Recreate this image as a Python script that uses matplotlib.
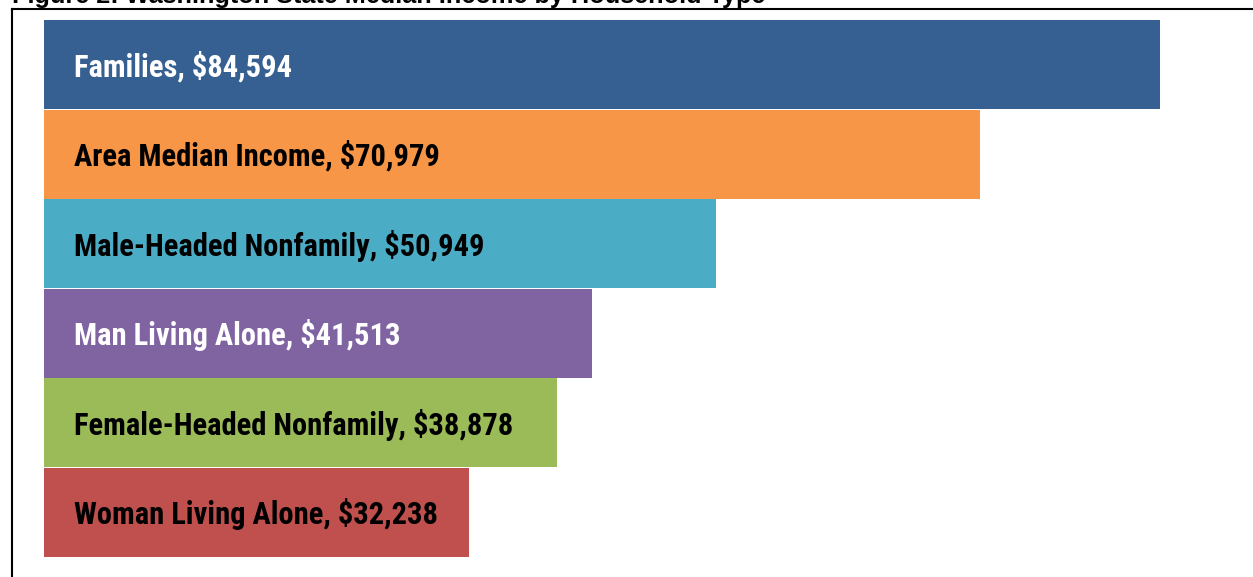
import matplotlib
matplotlib.use("Agg")
import matplotlib.pyplot as plt
from matplotlib.lines import Line2D

categories = ["Families", "Area Median Income", "Male-Headed Nonfamily",
              "Man Living Alone", "Female-Headed Nonfamily", "Woman Living Alone"]
values = [84594, 70979, 50949, 41513, 38878, 32238]
colors = ["#376092", "#F79646", "#4BACC6", "#8064A2", "#9BBB59", "#C0504D"]
text_colors = ["white", "black", "black", "white", "black", "black"]
title = "Figure 2: Washington State Median Income by Household Type"

W, H = 1253, 577
fig = plt.figure(figsize=(W / 100, H / 100), dpi=100)
fig.patch.set_facecolor("white")

# axes: x from pixel 44 to 1253, y from pixel 20 to 557
left_px, right_px, top_px, bot_px = 44, 1253, 20, 557
ax = fig.add_axes([left_px / W, 1 - bot_px / H, (right_px - left_px) / W, (bot_px - top_px) / H])
scale = (1160 - 44) / values[0]
xmax = (right_px - left_px) / scale
ax.set_xlim(0, xmax)
n = len(categories)
ax.set_ylim(n - 0.5, -0.5)
ax.axis("off")

pos = list(range(n))
ax.barh(pos, values, height=0.995, color=colors, edgecolor="none")

font = ["Roboto Condensed", "Liberation Sans", "DejaVu Sans"]
for i, (c, v, tc) in enumerate(zip(categories, values, text_colors)):
    ax.text(30 / scale, i + 0.02, f"{c}, ${v:,}", color=tc, fontsize=22, fontweight="bold",
            family=font, va="center", ha="left")

# border lines
fig.add_artist(Line2D([12 / W, 12 / W], [0, 1 - 9 / H], transform=fig.transFigure,
                      color="black", linewidth=1.5))
fig.add_artist(Line2D([12 / W, 1], [1 - 9 / H, 1 - 9 / H], transform=fig.transFigure,
                      color="black", linewidth=1.5))

# cut-off title
fig.text(12 / W, 1 - 3 / H, title, fontsize=18.2, fontweight="bold",
         family=["Liberation Sans", "DejaVu Sans"], ha="left", va="baseline")

fig.savefig("out.png", dpi=100, facecolor="white")
